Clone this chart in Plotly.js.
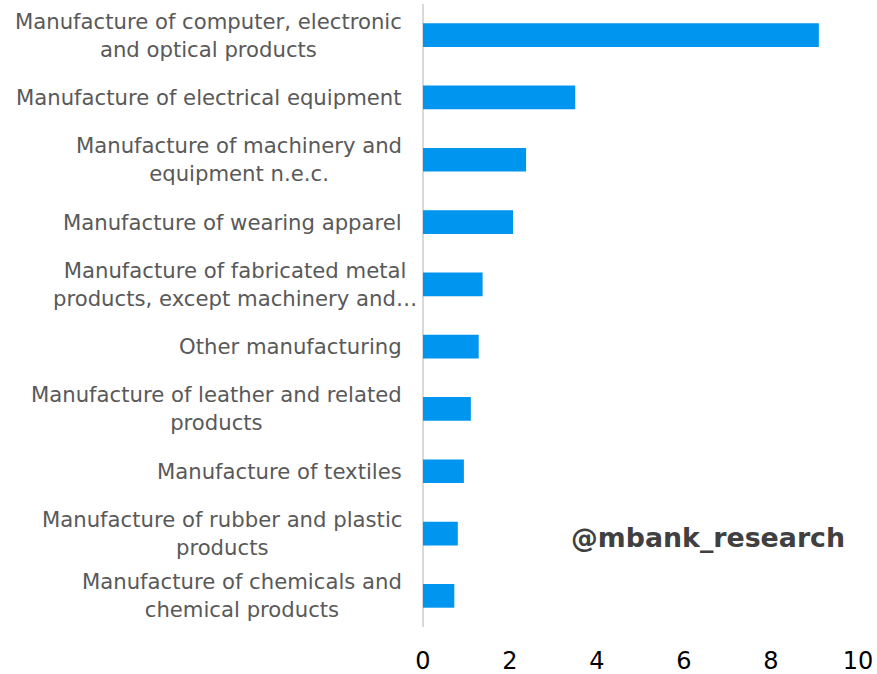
<!DOCTYPE html>
<html>
<head>
<meta charset="utf-8">
<script src="https://cdn.plot.ly/plotly-3.0.1.min.js"></script>
<style>html,body{margin:0;padding:0;background:#fff;}#chart{width:877px;height:674px;}</style>
</head>
<body>
<div id="chart"></div>
<script>
const categories = [
  "Manufacture of computer, electronic<br>and optical products",
  "Manufacture of electrical equipment",
  "Manufacture of machinery and<br>equipment n.e.c.",
  "Manufacture of wearing apparel",
  "Manufacture of fabricated metal<br>products, except machinery and…",
  "Other manufacturing",
  "Manufacture of leather and related<br>products",
  "Manufacture of textiles",
  "Manufacture of rubber and plastic<br>products",
  "Manufacture of chemicals and<br>chemical products"
];
const values = [9.10, 3.50, 2.37, 2.07, 1.37, 1.28, 1.10, 0.94, 0.80, 0.72];
const xTicks = [0, 2, 4, 6, 8, 10];
const watermark = "@mbank_research";

const trace = {
  type: "bar",
  orientation: "h",
  y: categories.map((c, i) => i),
  x: values,
  width: 0.38,
  marker: {color: "#0095ee", line: {width: 0}},
  hoverinfo: "none"
};

const labelAnnotations = categories.map((c, i) => ({
  text: c,
  xref: "paper", x: 0, xanchor: "right",
  // the truncated label overflows into the gap before the axis, as in the source
  xshift: c.indexOf("…") >= 0 ? -4 : -19,
  yref: "y", y: i, yanchor: "middle",
  align: "center",
  showarrow: false,
  font: {family: "DejaVu Sans, Verdana, sans-serif", size: 21.2, color: "#595959"}
}));

const layout = {
  width: 877, height: 674,
  margin: {l: 423, r: 19, t: 4, b: 47},
  paper_bgcolor: "#ffffff", plot_bgcolor: "#ffffff",
  showlegend: false,
  xaxis: {
    range: [0, 10], tickvals: xTicks, ticktext: xTicks.map(String),
    showgrid: false, showline: false,
    zeroline: true, zerolinecolor: "#d9d9d9", zerolinewidth: 1.5,
    ticks: "outside", ticklen: 12, tickcolor: "rgba(0,0,0,0)",
    tickfont: {family: "DejaVu Sans, Verdana, sans-serif", size: 24, color: "#000000"},
    fixedrange: true
  },
  yaxis: {
    range: [categories.length - 0.5, -0.5],
    showticklabels: false, showgrid: false, zeroline: false, showline: false,
    ticks: "", fixedrange: true
  },
  annotations: labelAnnotations.concat([{
    text: "<b>" + watermark + "</b>",
    xref: "paper", yref: "paper", x: 0.655, y: 0.143,
    xanchor: "center", yanchor: "middle", showarrow: false,
    font: {family: "DejaVu Sans, Verdana, sans-serif", size: 26.8, color: "#404040"}
  }])
};

Plotly.newPlot("chart", [trace], layout, {staticPlot: true, displayModeBar: false});
</script>
</body>
</html>
